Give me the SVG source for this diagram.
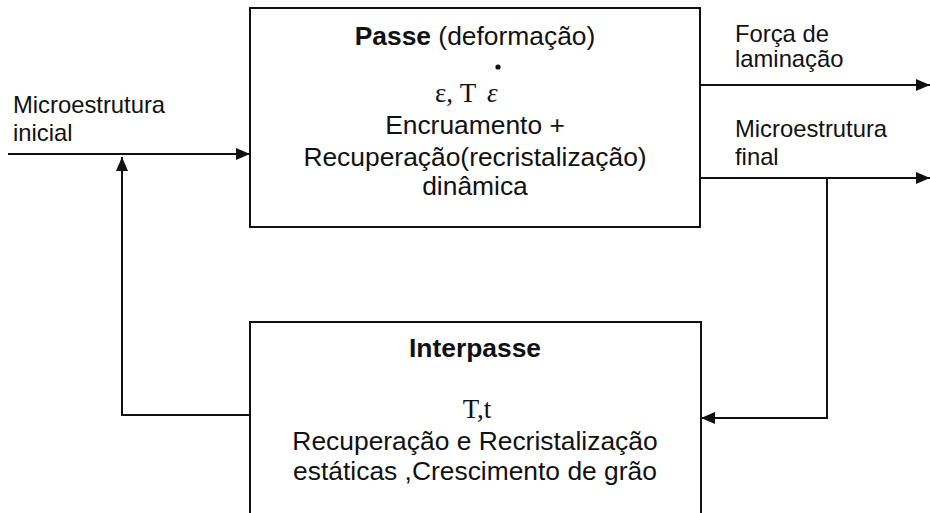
<svg xmlns="http://www.w3.org/2000/svg" width="930" height="513" viewBox="0 0 930 513">
<style>
.box{fill:none;stroke:#111;stroke-width:2}
.ln{fill:none;stroke:#111;stroke-width:2}
.t{font-family:"Liberation Sans",Arial,sans-serif;font-size:26.4px;fill:#111;text-anchor:middle}
.b{font-weight:bold}
.s{font-family:"Liberation Serif","Times New Roman",serif;font-size:27px;fill:#111}
.lb{font-family:"Liberation Sans",Arial,sans-serif;font-size:23.8px;fill:#111}
</style>
<defs>
<marker id="ah" viewBox="0 0 14 12" refX="14" refY="6" markerWidth="14" markerHeight="12" markerUnits="userSpaceOnUse" orient="auto">
<path d="M0,0 L14,6 L0,12 Z" fill="#111"/>
</marker>
</defs>
<rect width="930" height="513" fill="#fff"/>
<g id="passe">
<rect class="box" x="250" y="8" width="450" height="219"/>
<text class="t" x="475" y="45"><tspan class="b">Passe</tspan> (deformação)</text>
<circle cx="498" cy="67" r="2.6" fill="#111"/>
<text class="s" x="435" y="102">ε, T</text>
<text class="s" x="487" y="102" font-style="italic" font-size="36">ε</text>
<text class="t" x="475" y="134">Encruamento +</text>
<text class="t" x="475" y="166">Recuperação(recristalização)</text>
<text class="t" x="475" y="195">dinâmica</text>
</g>
<g id="interpasse">
<path class="box" d="M250,520 V322 H701 V520"/>
<text class="t b" x="475" y="357">Interpasse</text>
<text class="s" x="477" y="418" text-anchor="middle">T,t</text>
<text class="t" x="475" y="450">Recuperação e Recristalização</text>
<text class="t" x="475" y="480">estáticas ,Crescimento de grão</text>
</g>
<g id="labels">
<text class="lb" x="13" y="113">Microestrutura</text>
<text class="lb" x="13" y="141">inicial</text>
<text class="lb" x="735" y="42">Força de</text>
<text class="lb" x="735" y="67">laminação</text>
<text class="lb" x="735" y="137">Microestrutura</text>
<text class="lb" x="735" y="165">final</text>
</g>
<g id="connectors">
<line class="ln" x1="8" y1="154" x2="250" y2="154" marker-end="url(#ah)"/>
<polyline class="ln" points="250,415 122,415 122,157" marker-end="url(#ah)"/>
<line class="ln" x1="700" y1="85" x2="930" y2="85" marker-end="url(#ah)"/>
<line class="ln" x1="700" y1="178" x2="930" y2="178" marker-end="url(#ah)"/>
<polyline class="ln" points="827,178 827,418 701,418" marker-end="url(#ah)"/>
</g>
</svg>
